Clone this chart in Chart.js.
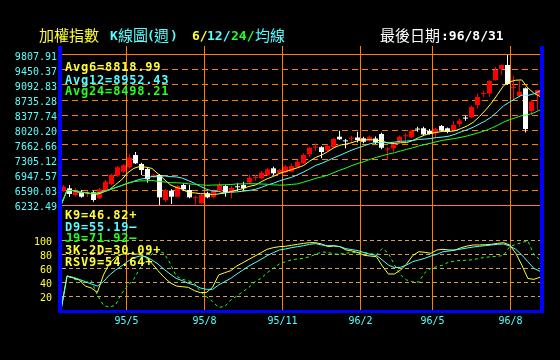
<!DOCTYPE html>
<html>
<head>
<meta charset="utf-8">
<script src="https://cdn.jsdelivr.net/npm/chart.js@4.4.1/dist/chart.umd.min.js"></script>
<style>
html,body{margin:0;padding:0;background:#000;}
#wrap{position:relative;width:560px;height:360px;overflow:hidden;background:#000;}
#c{position:absolute;left:0;top:0;}
.t{position:absolute;white-space:pre;}
.cjk{font-family:"Noto Sans CJK TC","Noto Sans CJK SC",sans-serif;font-size:15px;line-height:15px;}
.tm{font-family:"DejaVu Sans Mono",monospace;font-weight:bold;font-size:13px;line-height:13px;}
.lg{font-family:"DejaVu Sans Mono",monospace;font-weight:bold;font-size:12px;line-height:12px;letter-spacing:0.8px;}
</style>
</head>
<body>
<div id="wrap">
<canvas id="c" width="560" height="360"></canvas>
<div class="t cjk" style="left:39px;top:27px;color:#ffff33">加權指數</div>
<div class="t tm" style="left:110px;top:28.5px;color:#55ffff">K</div>
<div class="t cjk" style="left:118px;top:27px;color:#55ffff">線圖</div>
<div class="t tm" style="left:147px;top:28.5px;color:#55ffff">(</div>
<div class="t cjk" style="left:154px;top:27px;color:#55ffff">週</div>
<div class="t tm" style="left:170px;top:28.5px;color:#55ffff">)</div>
<div class="t tm" style="left:192px;top:28.5px;color:#ffff33">6/</div>
<div class="t tm" style="left:207px;top:28.5px;color:#55ffff">12/</div>
<div class="t tm" style="left:231px;top:28.5px;color:#22ff22">24/</div>
<div class="t cjk" style="left:255px;top:27px;color:#55ffff">均線</div>
<div class="t cjk" style="left:380px;top:27px;color:#ffffff">最後日期</div>
<div class="t tm" style="left:441px;top:28.5px;color:#ffffff">:96/8/31</div>
<div id="legend"></div>
</div>
<script>
// ---------- DATA ----------
const tickLabelsX = ['95/5', '95/8', '95/11', '96/2', '96/5', '96/8'];
const tickWeeksX = [10.5, 23.5, 36.5, 49.5, 61.5, 74.5];   // month boundaries (week index)
const tickValuesY = [6232.49, 6590.03, 6947.57, 7305.12, 7662.66, 8020.20, 8377.74, 8735.28, 9092.83, 9450.37, 9807.91];
const tickValuesKD = [20, 40, 60, 80, 100];

const open  = [6573,6630,6471,6535,6490,6535,6392,6590,6733,6931, 7026,7131,7424,7210,7091,6893,6948,6352,6573,6430,
               6709,6590,6395,6273,6511,6416,6573,6685,6525,6665, 6709,6764,6875,6869,6948,7107,6988,7012,7026,7131,
               7226,7441,7600,7610,7527,7608,7861,7760,7815,7842, 7822,7765,7818,7925,7555,7584,7751,7870,7846,8038,
               8061,8004,7942,8116,8061,8020,8163,8305,8323,8616, 8880,8895,9212,9474,9569,9020,8831,9014,8473,8854];
const high  = [6709,6709,6630,6590,6566,6573,6630,6828,6972,7162, 7210,7441,7496,7241,7131,6964,6972,6606,6606,6709,
               6750,6709,6460,6511,6549,6606,6764,6709,6685,6750, 6788,6948,6948,7043,7114,7145,7099,7186,7226,7305,
               7465,7622,7703,7630,7675,7830,8004,7806,7877,7980, 7861,7890,7866,7956,7608,7734,7890,7942,8020,8099,
               8099,8044,8068,8139,8080,8235,8299,8361,8604,8895, 8957,9212,9529,9581,9807.91,9307,9195,9033,8735,8980];
const low   = [6549,6430,6430,6406,6423,6311,6375,6566,6709,6912, 6995,7103,7210,6948,6764,6869,6232.49,6311,6256,6416,
               6573,6392,6245,6265,6392,6392,6549,6430,6392,6573, 6573,6750,6812,6852,6924,6948,6972,6995,7012,7114,
               7210,7384,7527,7346,7508,7591,7782,7584,7741,7720, 7703,7746,7686,7560,7305,7503,7734,7758,7830,7980,
               7877,7913,7846,7984,7942,7996,8099,8242,8306,8537, 8800,8814,9200,9331,9093,8735,8814,7961,8378,8485];
const close = [6669,6494,6566,6430,6498,6352,6606,6788,6948,7131, 7179,7360,7226,7067,6845,6948,6416,6590,6430,6685,
               6606,6416,6410,6471,6416,6566,6709,6525,6645,6655, 6630,6883,6890,7002,7083,6988,7067,7145,7162,7265,
               7424,7598,7610,7496,7646,7806,7799,7750,7825,7782, 7741,7861,7723,7598,7570,7703,7861,7885,8004,8030,
               7913,7925,8044,8004,7980,8139,8242,8292,8568,8807, 8890,9188,9450,9569,9117,9030,8933,8044,8695,8974];

const avg6  = [6232.49,6580,6576,6540,6530,6502,6490,6540,6602,6719, 6833,7002,7105,7153,7134,7105,6976,6847,6716,6652,
               6612,6523,6523,6502,6499,6480,6497,6516,6554,6588, 6623,6676,6704,6783,6857,6912,6983,7029,7074,7119,
               7174,7277,7367,7424,7505,7596,7658,7684,7720,7768, 7782,7791,7779,7753,7708,7698,7717,7720,7768,7839,
               7899,7937,7965,7987,7984,8001,8056,8118,8206,8340, 8490,8664,8866,9079,9169,9207,9214,9024,8897,8818.99];
const avg12 = [6232.49,6580,6576,6540,6530,6502,6516,6550,6595,6647, 6697,6752,6797,6845,6869,6912,6905,6926,6909,6902,
               6874,6814,6750,6676,6609,6566,6554,6521,6540,6545, 6561,6578,6602,6650,6707,6750,6805,6852,6890,6952,
               7017,7095,7176,7226,7291,7358,7417,7482,7543,7596, 7644,7694,7720,7720,7715,7732,7751,7756,7772,7796,
               7803,7818,7841,7853,7875,7920,7977,8027,8087,8163, 8237,8332,8461,8597,8688,8773,8852,8845,8883,8952.43];
const avg24 = [6232.49,6580,6576,6540,6530,6502,6516,6550,6595,6647, 6697,6752,6788,6807,6809,6819,6795,6783,6766,6762,
               6755,6738,6724,6714,6702,6707,6712,6716,6721,6735, 6735,6740,6738,6733,6728,6712,6707,6709,6724,6735,
               6778,6819,6869,6902,6945,7005,7062,7114,7174,7224, 7267,7322,7367,7408,7446,7479,7520,7558,7596,7639,
               7675,7706,7744,7775,7796,7820,7846,7880,7918,7961, 8006,8065,8132,8209,8266,8313,8363,8383,8430,8498.21];

const k9 = [0,48.6,45.7,42.9,34.3,31.4,25.2,50,66.7,75.2, 79.5,81,80,79.5,75.2,66.7,56.2,46.7,39,34.3,
            33.3,32.4,27.6,24.8,25.2,32.4,50,53.3,56.2,62.9, 67.6,72.4,77.1,81.9,86.7,89,90.5,91,92.4,93.8,
            95.2,96.2,96.2,94.3,90.5,91.4,90.5,85.7,84.3,81.9, 78.1,77.1,76.2,62.9,51.4,51.4,57.1,65.7,77.6,83.3,
            82.4,81,85.7,86.7,85.7,85.7,89,91.4,92.9,92.9, 93.3,93.8,95.2,96.2,92.9,81,64.3,45,43.8,46.82];
const d9 = [0,48.6,46.7,43.8,40.5,37.1,34.3,40.5,50,57.1, 62.9,69.5,74.5,77.1,76.2,71.4,65.7,58.1,51.4,45.2,
            41.9,38.1,35.7,31.4,29.5,29.5,35.7,40.5,45.2,51.4, 57.1,62.9,67.6,72.4,77.6,81.9,85.7,87.1,89,90.5,
            91.9,93.8,94.8,92.9,91.9,91.9,90.5,87.6,86.2,84.8, 81.9,79.5,78.1,71.4,64.3,60.5,61,64.3,69,71.4,
            73.8,77.1,79.5,83.3,84.3,85.7,87.1,88.6,90,91, 91.9,92.9,93.8,94.3,91.4,86.7,78.6,69,59.5,55.19];
const j9 = [0,48.6,44.8,41.9,39,41.9,21.4,6.7,3.8,7.1, 23.8,34.3,43.8,59.5,70.5,80,84.3,81,66.7,48.6,
            43.8,41.9,38.1,26.2,19,11.9,3.8,4.8,14.3,20, 26.2,32.4,40.5,45.2,53.3,59.5,65.7,69,71.4,72.9,
            73.8,76.2,79.5,82.9,82.4,80,80,81,82.4,82.4, 81.9,81,78.6,88.1,81,64.3,50,42.9,40.5,40,
            53.3,59.5,61.9,64.3,68.6,70,71,71,71.9,73.8, 75.2,76.2,76.7,78.1,90.5,93.8,96.2,99,78.6,71.92];
const k3d2 = 30.09;
const rsv9 = 54.64;

// ---------- STYLE / LAYOUT ----------
const YEL = '#ffff33', CYAN = '#55ffff', GREEN = '#22ff22', ORANGE = '#ff8000',
      TAN = '#d0a060', RED = '#ff0000', WHITE = '#ffffff', BLUE = '#0000ff';
const MONO = '"DejaVu Sans Mono", monospace';
const AREA = {left: 62, top: 46, right: 540, bottom: 310};
const MAIN_TOP_PX = 55, MAIN_BOT_PX = 205;     // pixel rows of the top/bottom price ticks
const KD_100_PX = 240;
const CANDLE_STEP = 6, CANDLE_FIRST = 63.5;
const LINE_FIRST = 61;

const yTop = tickValuesY[tickValuesY.length - 1], yBot = tickValuesY[0];
const perPx = (yTop - yBot) / (MAIN_BOT_PX - MAIN_TOP_PX);
const yMax = yTop + (MAIN_TOP_PX - AREA.top) * perPx;
const yMin = yBot - (AREA.bottom - MAIN_BOT_PX) * perPx;
const kdPerPx = 100 / (AREA.bottom - KD_100_PX);
const kdMax = (AREA.bottom - AREA.top) * kdPerPx;
const xMin = (AREA.left - CANDLE_FIRST) / CANDLE_STEP;
const xMax = (AREA.right - CANDLE_FIRST) / CANDLE_STEP;
const nPts = close.length;
const lineStep = (AREA.right - LINE_FIRST) / (nPts - 1);
const xlMin = (AREA.left - LINE_FIRST) / lineStep;
const xlMax = nPts - 1;

const idx = close.map((_, i) => i);
const candleColor = idx.map(i => close[i] >= open[i] ? RED : WHITE);
const pts = arr => arr.map((v, i) => ({x: i, y: v}));

// ---------- LEGEND TEXT ----------
const last = a => a[a.length - 1].toFixed(2);
const legendItems = [
  ['Avg6=' + last(avg6), YEL, 61.3],
  ['Avg12=' + last(avg12), CYAN, 73.6],
  ['Avg24=' + last(avg24), GREEN, 85.3],
  ['K9=' + last(k9) + '+', YEL, 208.8],
  ['D9=' + last(d9) + '—', CYAN, 220.6],
  ['J9=' + last(j9) + '—', GREEN, 232.4],
  ['3K-2D=' + k3d2.toFixed(2) + '+', YEL, 244.3],
  ['RSV9=' + rsv9.toFixed(2) + '+', YEL, 256.3]
];
const lg = document.getElementById('legend');
legendItems.forEach(([txt, col, top]) => {
  const d = document.createElement('div');
  d.className = 't lg';
  d.style.left = '65px';
  d.style.top = top + 'px';
  d.style.color = col;
  d.textContent = txt;
  lg.appendChild(d);
});

// ---------- PLUGINS ----------
const frame = {
  id: 'frame',
  afterLayout(chart) {
    // let the KD axis labels use the same label column as the price axis
    const s = chart.scales.yk;
    s.left = 0; s.right = chart.chartArea.left; s.width = chart.chartArea.left;
  },
  afterDraw(chart) {
    const {ctx, chartArea: a} = chart;
    ctx.save();
    ctx.fillStyle = BLUE;
    ctx.fillRect(a.left - 4, a.top, 4, a.bottom - a.top + 3);
    ctx.fillRect(a.right, a.top, 4, a.bottom - a.top + 3);
    ctx.fillRect(a.left - 4, a.bottom, a.right - a.left + 8, 3);
    ctx.restore();
  }
};

const lineDs = (label, data, color, yAxisID, order, dash) => ({
  type: 'line', label, data: pts(data), xAxisID: 'xl', yAxisID,
  borderColor: color, borderWidth: 1, pointRadius: 0, fill: false, tension: 0,
  borderDash: dash || [], order
});

new Chart(document.getElementById('c'), {
  type: 'bar',
  data: {
    datasets: [
      lineDs('Avg24', avg24, GREEN, 'y', 0),
      lineDs('Avg12', avg12, CYAN, 'y', 1),
      lineDs('Avg6', avg6, YEL, 'y', 2),
      lineDs('D9', d9, CYAN, 'yk', 0),
      lineDs('K9', k9, YEL, 'yk', 1),
      lineDs('J9', j9, GREEN, 'yk', 2, [3, 3]),
      { type: 'bar', label: 'body', data: idx.map(i => ({x: i, y: [open[i], close[i]]})),
        xAxisID: 'x', yAxisID: 'y', backgroundColor: candleColor, borderWidth: 0,
        barThickness: 5, grouped: false, minBarLength: 1, inflateAmount: 0, order: 5 },
      { type: 'bar', label: 'wick', data: idx.map(i => ({x: i, y: [low[i], high[i]]})),
        xAxisID: 'x', yAxisID: 'y', backgroundColor: candleColor, borderWidth: 0,
        barThickness: 1, grouped: false, minBarLength: 1, inflateAmount: 0, order: 6 }
    ]
  },
  options: {
    responsive: false, animation: false, events: [],
    layout: {padding: {top: AREA.top, right: 560 - AREA.right, bottom: 0, left: 0}},
    plugins: {legend: {display: false}, tooltip: {enabled: false}},
    scales: {
      x: {
        type: 'linear', position: 'bottom', min: xMin, max: xMax, offset: false,
        afterBuildTicks: s => { s.ticks = tickWeeksX.map(v => ({value: v})); },
        afterFit: s => { s.height = 360 - AREA.bottom; },
        ticks: {autoSkip: false, maxRotation: 0, color: CYAN, font: {family: MONO, size: 10},
                padding: 5, callback: (v, i) => tickLabelsX[i]},
        grid: {color: ORANGE, lineWidth: 1, drawTicks: false, offset: false},
        border: {display: false}
      },
      xl: {type: 'linear', display: false, min: xlMin, max: xlMax, offset: false, grid: {offset: false}},
      y: {
        type: 'linear', position: 'left', weight: 0, min: yMin, max: yMax,
        afterBuildTicks: s => { s.ticks = tickValuesY.map(v => ({value: v})); },
        afterFit: s => { s.width = AREA.left; },
        ticks: {autoSkip: false, color: CYAN, font: {family: MONO, size: 10}, padding: 5,
                labelOffset: 2, callback: v => v.toFixed(2)},
        grid: {color: ORANGE, lineWidth: 1, drawTicks: false},
        border: {display: false,
                 dash: c => (c.index === 0 || c.index === tickValuesY.length - 1) ? [] : [6, 4]}
      },
      yk: {
        type: 'linear', position: 'left', weight: 1, min: 0, max: kdMax,
        afterBuildTicks: s => { s.ticks = tickValuesKD.map(v => ({value: v})); },
        afterFit: s => { s.width = 0; },
        ticks: {autoSkip: false, color: YEL, font: {family: MONO, size: 10}, padding: 10,
                labelOffset: 2, callback: v => String(v)},
        grid: {color: TAN, lineWidth: 1, drawTicks: false},
        border: {display: false, dash: [4, 3]}
      }
    }
  },
  plugins: [frame]
});
</script>
</body>
</html>
